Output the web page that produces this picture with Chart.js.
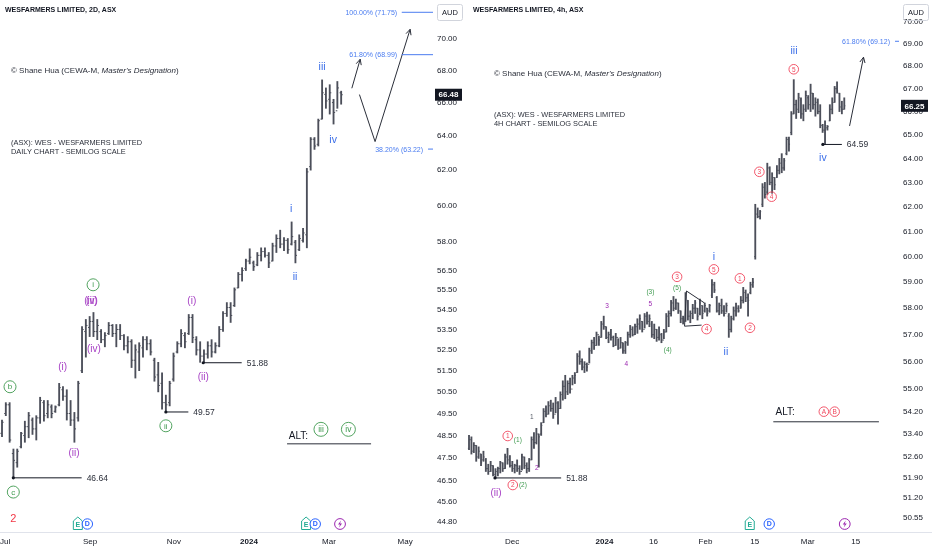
<!DOCTYPE html>
<html><head><meta charset="utf-8">
<script src="https://cdn.jsdelivr.net/npm/chart.js@4.4.1/dist/chart.umd.min.js"></script>
<style>
html,body{margin:0;padding:0;background:#fff;}
body{width:932px;height:550px;overflow:hidden;position:relative;}
canvas{position:absolute;top:0;}
#c1{left:0;} #c2{left:466px;}
</style></head>
<body>
<canvas id="c1" width="466" height="550"></canvas>
<canvas id="c2" width="466" height="550"></canvas>
<script>
// ---------------- LEFT: WESFARMERS 2D ----------------
const leftOpen=[48.6,49.5,49.9,47.7,47.3,48.0,48.5,48.9,49.2,48.8,49.3,50.0,49.5,49.8,49.6,49.9,50.6,50.3,49.5,49.2,49.3,51.5,53.4,53.6,53.9,53.4,53.4,53.0,53.3,53.7,53.3,53.5,53.2,52.7,52.9,52.0,52.4,52.6,53.0,52.8,52.0,51.3,50.9,50.0,50.0,51.1,52.4,52.8,53.2,53.3,54.1,53.0,52.5,52.2,52.3,52.7,52.4,52.7,53.5,54.3,54.6,54.7,55.6,56.3,56.6,57.0,56.9,56.8,57.3,57.5,57.3,57.0,57.8,58.2,57.9,58.1,57.9,58.0,57.6,58.1,58.4,62.2,63.8,63.5,65.0,66.5,66.2,66.0,65.5,66.6];
const leftHigh=[49.2,50.0,50.0,47.9,47.9,48.65,49.15,49.55,49.3,49.4,50.25,50.1,50.1,49.9,49.85,50.9,50.75,50.6,50.1,49.55,51.0,53.65,54.0,54.15,54.35,54.0,53.5,53.35,53.85,53.75,53.75,53.75,53.25,53.15,53.0,52.75,52.85,53.15,53.15,53.0,52.1,51.9,51.4,50.35,51.0,52.35,52.9,53.5,53.35,54.25,54.25,53.15,52.9,52.5,52.9,53.0,52.85,53.65,54.4,54.85,54.85,55.6,56.4,56.65,57.1,57.65,57.0,57.45,57.7,57.7,57.45,57.95,58.4,58.65,58.25,58.2,59.1,58.1,58.4,58.75,62.1,63.9,63.9,65.0,67.4,66.9,67.1,66.2,67.3,66.7];
const leftLow=[48.45,49.4,48.2,46.64,47.1,47.95,48.2,48.4,48.55,48.3,49.05,49.15,49.3,49.3,49.55,49.85,50.1,49.2,48.95,48.2,49.15,51.4,52.15,53.15,53.15,53.0,52.85,52.65,53.25,53.15,52.65,53.0,52.5,52.35,51.65,51.15,51.5,52.15,52.5,52.25,51.0,50.5,49.7,49.57,49.85,51.0,52.35,52.65,52.6,53.25,52.85,52.25,51.9,51.88,52.1,52.15,52.35,52.65,53.4,54.15,53.85,54.65,55.6,55.95,56.5,56.85,56.5,56.75,57.0,57.2,56.65,57.0,57.45,57.7,57.55,57.4,57.85,56.9,57.55,58.0,57.7,62.0,63.2,63.4,65.0,65.65,65.3,64.7,65.65,65.9];
const leftClose=[49.1,49.9,48.3,47.4,47.8,48.6,48.9,49.4,48.8,49.3,50.1,49.4,49.9,49.5,49.8,50.7,50.3,49.5,49.2,48.8,50.9,53.5,53.7,53.9,53.4,53.7,53.0,53.2,53.7,53.3,53.5,53.2,52.7,52.9,52.0,52.5,52.7,53.0,52.8,52.4,51.2,50.8,50.0,49.9,50.9,52.2,52.8,53.3,52.9,54.1,53.1,52.5,52.2,52.3,52.7,52.4,52.7,53.5,54.3,54.6,54.2,55.5,56.3,56.5,57.0,57.2,56.7,57.3,57.5,57.3,56.9,57.8,58.2,57.9,58.1,57.6,58.3,57.3,58.2,58.5,61.9,63.8,63.4,64.9,66.6,66.1,66.6,65.4,66.9,66.48];
const leftYTicks=[70,68,66,64,62,60,58,56.5,55.5,54.5,53.5,52.5,51.5,50.5,49.5,48.5,47.5,46.5,45.6,44.8];
const leftXTickPos=[0.8,23.1,45.1,64.8,85.8,105.8];
const leftXTickLabels=['Jul','Sep','Nov','2024','Mar','May'];
const leftLevels=[[2.97,20.9,46.64],[43.0,48.9,49.57],[52.8,62.9,51.88]];
const leftFibValues=[71.75,68.99,63.22];
const leftFibLabels=['100.00% (71.75)','61.80% (68.99)','38.20% (63.22)'];
const leftFibTextEnd=[103.7,103.7,110.5];
const leftFibLineStart=[104.9,104.9,111.8];
const leftArrows=[[[91.8,66.88],[94.0,68.70]],[[93.8,66.49],[97.9,63.66],[107.1,70.63]]];
const leftPaths=[[[74.8,48.13],[96.85,48.13]]];
const leftLabels=[[84.0,68.21,'iii','b'],[86.9,63.80,'iv','b'],[75.9,59.81,'i','b'],[76.9,56.17,'ii','b'],
 [23.9,55.76,'i','gc'],[23.3,54.92,'(iii)','p'],[23.6,54.92,'(v)','p'],[24.1,52.54,'(iv)','p'],
 [15.9,51.67,'(i)','p'],[18.9,47.73,'(ii)','p'],[2.1,50.74,'b','gc'],[2.97,46.03,'c','gc'],[2.97,44.93,'2','r2'],
 [43.0,48.94,'ii','gc'],[49.8,54.92,'(i)','p'],[52.8,51.19,'(ii)','p'],[77.8,48.49,'ALT:','k'],
 [83.7,48.78,'iii','gc2'],[90.9,48.78,'iv','gc2']];
const leftIcons=[[19.9,'E'],[22.4,'D'],[79.8,'E'],[82.2,'D'],[88.7,'L']];

// ---------------- RIGHT: WESFARMERS 4h ----------------
const rightOpen=[52.9,53.2,52.8,53.0,52.6,52.7,52.5,52.5,52.2,52.1,52.3,52.0,52.1,52.2,52.4,52.2,52.6,52.5,52.3,52.2,52.3,52.2,52.1,52.6,52.3,52.2,52.5,53.2,53.1,53.4,53.4,53.8,54.2,54.1,54.4,54.3,54.1,54.5,54.3,54.8,55.1,54.9,55.2,55.0,55.4,55.6,56.2,56.0,55.8,55.9,55.9,56.4,56.7,56.6,57.0,56.9,57.4,57.3,56.9,57.0,56.9,56.6,56.9,56.5,56.7,56.4,56.7,57.0,57.2,57.0,57.3,57.4,57.5,57.2,57.7,57.5,57.4,57.0,57.2,56.9,57.0,56.8,57.1,57.7,57.8,58.2,58.0,58.2,57.9,57.6,57.5,58.3,57.7,57.8,58.0,58.0,57.8,58.1,57.9,58.0,57.9,58.5,58.9,58.4,57.9,58.1,57.9,57.8,57.7,57.2,57.6,57.9,58.0,58.0,58.3,58.6,58.4,58.6,58.9,60.0,61.7,61.6,62.1,62.8,62.6,63.6,63.0,63.2,63.2,63.5,63.8,63.6,64.2,64.8,65.1,65.9,66.3,66.1,66.5,65.9,66.1,66.6,66.3,66.8,66.3,66.4,66.0,65.4,65.2,65.3,65.6,66.1,66.4,67.0,66.8,66.2,66.1];
const rightHigh=[53.35,53.3,53.1,53.0,52.95,52.7,52.8,52.55,52.35,52.45,52.3,52.2,52.25,52.45,52.4,52.7,52.9,52.65,52.45,52.35,52.5,52.3,52.7,52.6,52.4,52.55,53.3,53.45,53.6,53.4,53.8,54.3,54.4,54.55,54.6,54.5,54.7,54.55,54.9,55.3,55.5,55.3,55.4,55.5,55.6,56.3,56.4,56.1,56.0,55.95,56.5,56.8,56.9,57.1,56.95,57.5,57.7,57.3,57.1,57.2,56.95,57.05,56.85,56.9,56.7,56.75,57.1,57.35,57.3,57.4,57.6,57.75,57.5,57.8,57.85,57.75,57.5,57.4,57.2,57.3,57.05,57.2,57.8,57.9,58.3,58.45,58.35,58.2,57.9,57.7,58.6,58.3,57.9,58.15,58.3,58.0,58.35,58.1,58.2,58.0,58.15,59.1,59.0,58.45,58.2,58.35,58.1,58.2,57.8,57.7,58.05,58.2,58.1,58.45,58.8,58.7,58.55,59.0,59.15,62.1,61.95,61.85,62.95,63.0,63.8,63.65,63.4,63.2,63.7,64.0,64.2,64.0,64.9,64.9,66.0,67.4,66.5,66.8,66.6,66.3,66.9,66.7,67.2,66.8,66.6,66.55,66.3,65.45,65.6,65.4,66.3,66.6,67.1,67.3,66.8,66.45,66.6];
const rightLow=[52.85,52.7,52.75,52.45,52.55,52.3,52.45,52.1,52.0,52.1,51.95,51.88,51.95,52.05,52.1,52.2,52.35,52.25,52.1,52.05,52.1,52.0,52.15,52.2,52.05,52.1,52.5,52.9,53.05,52.25,53.35,53.8,54.0,54.1,54.2,53.95,54.15,53.75,54.3,54.6,54.65,54.8,54.85,55.15,55.2,55.6,55.9,55.7,55.6,55.65,55.95,56.3,56.45,56.6,56.6,56.9,57.2,56.85,56.7,56.8,56.55,56.6,56.45,56.5,56.3,56.3,56.6,56.9,56.95,57.0,57.05,57.2,57.1,57.25,57.4,57.3,56.9,56.85,56.75,56.8,56.7,56.85,57.1,57.3,57.7,57.9,57.95,57.8,57.45,57.4,57.5,57.55,57.45,57.6,57.8,57.55,57.75,57.6,57.85,57.7,57.85,58.4,58.6,57.85,57.75,57.8,57.7,57.85,56.9,57.1,57.55,57.7,57.85,58.0,58.2,58.25,57.7,58.55,58.8,59.9,61.55,61.5,62.0,62.35,62.5,62.9,62.55,62.7,63.2,63.35,63.4,63.5,64.15,64.3,65.0,65.9,65.7,65.95,65.7,65.6,66.0,66.1,66.0,66.1,65.8,65.9,65.3,65.1,64.59,65.2,65.6,65.9,66.4,66.8,66.0,65.9,66.1];
const rightClose=[53.2,52.8,53.0,52.6,52.8,52.4,52.6,52.2,52.1,52.3,52.0,52.1,52.2,52.4,52.2,52.6,52.5,52.3,52.2,52.3,52.2,52.1,52.6,52.3,52.2,52.5,53.2,53.1,53.4,53.3,53.7,54.2,54.1,54.4,54.3,54.1,54.5,54.3,54.8,55.1,54.9,55.2,55.0,55.4,55.5,56.2,56.0,55.8,55.9,55.8,56.4,56.7,56.6,57.0,56.8,57.4,57.3,56.9,57.0,56.9,56.6,56.9,56.5,56.7,56.4,56.7,57.0,57.2,57.0,57.3,57.4,57.6,57.2,57.7,57.5,57.6,57.0,57.2,56.9,57.1,56.8,57.1,57.7,57.8,58.2,58.0,58.2,57.9,57.6,57.5,58.4,57.7,57.8,58.0,58.2,57.7,58.2,57.8,58.1,57.8,58.1,58.9,58.7,57.9,58.1,57.9,57.8,58.1,57.2,57.6,57.9,58.0,57.9,58.3,58.6,58.4,58.3,58.9,59.0,61.7,61.6,61.8,62.8,62.5,63.6,63.0,63.2,62.9,63.5,63.8,63.6,63.9,64.8,64.6,65.9,66.3,66.1,66.6,65.9,66.1,66.7,66.3,66.8,66.3,66.4,66.0,65.4,65.2,65.4,65.35,66.1,66.4,67.0,66.9,66.2,66.1,66.25];
const rightYTicks=[70,69,68,67,66,65,64,63,62,61,60,59,58,57,56,55,54.2,53.4,52.6,51.9,51.2,50.55];
const rightXTickPos=[17.9,56.3,76.7,98.3,118.75,140.8,160.8];
const rightXTickLabels=['Dec','2024','16','Feb','15','Mar','15'];
const rightLevels=[[10.8,38.3,51.88],[147.1,155.0,64.59]];
const rightFibValues=[69.12];
const rightFibLabels=['61.80% (69.12)'];
const rightFibTextEnd=[175.0];
const rightFibLineStart=[177.1];
const rightArrows=[[[158.2,65.38],[164.0,68.40]]];
const rightPaths=[[[126.5,53.83],[170.4,53.83]],[[90.4,58.66],[97.9,58.20]],[[90.4,58.66],[89.6,57.32],[96.7,57.36]]];
const rightLabels=[[135.1,68.69,'iii','b'],[135.0,67.86,'5','rc'],[147.1,64.02,'iv','b'],[120.7,63.44,'3','rc'],
 [125.8,62.41,'4','rc'],[101.8,59.99,'i','b'],[101.8,59.50,'5','rc'],[86.5,59.21,'3','rc'],[112.6,59.15,'1','rc'],
 [116.8,57.26,'2','rc'],[98.75,57.21,'4','rc'],[106.8,56.37,'ii','b'],[75.4,58.63,'(3)','gs'],[75.4,58.19,'5','ps'],
 [86.5,58.79,'(5)','gs'],[57.4,58.10,'3','ps'],[65.4,55.92,'4','ps'],[82.6,56.45,'(4)','gs'],[26.1,54.0,'1','ks'],
 [16.1,53.33,'1','rc'],[20.3,53.20,'(1)','gs'],[28.2,52.23,'2','ps'],[18.2,51.64,'2','rc'],[22.4,51.64,'(2)','gs'],
 [11.25,51.37,'(ii)','p'],[131.4,54.19,'ALT:','k'],[147.5,54.19,'A','rc'],[152.0,54.19,'B','rc']];
const rightIcons=[[116.7,'E'],[124.8,'D'],[156.2,'L']];

// ---------------- rendering ----------------
const F='"Liberation Sans", Arial, sans-serif';
const BAR='#4c4f5a';
const INK='#131722';
const COLS={b:'#3b6ee8',p:'#a63fc4',g:'#3f9a4f',r:'#f0465c',ps:'#9c27b0',ks:'#555a66'};

function circ(ctx,x,y,r,t,col,fs){
  ctx.beginPath();ctx.arc(x,y,r,0,Math.PI*2);ctx.strokeStyle=col;ctx.lineWidth=0.9;ctx.stroke();
  ctx.fillStyle=col;ctx.font=fs+'px '+F;ctx.textAlign='center';ctx.textBaseline='middle';ctx.fillText(t,x,y+0.5);
}
function drawIcon(ctx,x,y,k){
  ctx.save();ctx.lineWidth=1;
  if(k==='E'){
    ctx.strokeStyle='#22ab94';ctx.fillStyle='#fff';
    ctx.beginPath();ctx.moveTo(x-4.5,y-3);ctx.lineTo(x,y-7);ctx.lineTo(x+4.5,y-3);ctx.lineTo(x+4.5,y+5.5);ctx.lineTo(x-4.5,y+5.5);ctx.closePath();ctx.fill();ctx.stroke();
    ctx.fillStyle='#22ab94';ctx.font='bold 7px '+F;ctx.textAlign='center';ctx.textBaseline='middle';ctx.fillText('E',x,y+1);
  } else if(k==='D'){
    ctx.strokeStyle='#2962ff';ctx.fillStyle='#fff';
    ctx.beginPath();ctx.arc(x,y,5.2,0,Math.PI*2);ctx.fill();ctx.stroke();
    ctx.fillStyle='#2962ff';ctx.font='bold 7px '+F;ctx.textAlign='center';ctx.textBaseline='middle';ctx.fillText('D',x,y+0.5);
  } else {
    ctx.strokeStyle='#9c27b0';ctx.fillStyle='#fff';
    ctx.beginPath();ctx.arc(x,y,5.4,0,Math.PI*2);ctx.fill();ctx.stroke();
    ctx.fillStyle='#9c27b0';ctx.beginPath();
    ctx.moveTo(x+1,y-3.5);ctx.lineTo(x-2,y+0.5);ctx.lineTo(x,y+0.5);ctx.lineTo(x-1,y+3.5);ctx.lineTo(x+2,y-0.5);ctx.lineTo(x,y-0.5);ctx.closePath();ctx.fill();
  }
  ctx.restore();
}

function overlay(P){
  return {
    id:'overlay',
    afterDatasetsDraw(chart){
      const ctx=chart.ctx,xs=chart.scales.x,ys=chart.scales.y,a=chart.chartArea;
      const X=v=>xs.getPixelForValue(v),Y=v=>ys.getPixelForValue(v);
      ctx.save();
      ctx.beginPath();ctx.rect(a.left,a.top,a.right-a.left,a.bottom-a.top);ctx.clip();
      // open / close ticks
      ctx.strokeStyle=BAR;ctx.lineWidth=1;
      for(let i=0;i<P.open.length;i++){
        const x=X(i),yo=Y(P.open[i]),yc=Y(P.close[i]);
        ctx.beginPath();ctx.moveTo(x-P.tick,yo);ctx.lineTo(x,yo);ctx.moveTo(x,yc);ctx.lineTo(x+P.tick,yc);ctx.stroke();
      }
      // level dots and texts
      P.levels.forEach(l=>{
        ctx.fillStyle=INK;ctx.beginPath();ctx.arc(X(l[0]),Y(l[2]),1.6,0,Math.PI*2);ctx.fill();
        ctx.font='8.5px '+F;ctx.textAlign='left';ctx.textBaseline='middle';ctx.fillStyle='#2a2e39';
        ctx.fillText(l[2].toFixed(2),X(l[1])+5,Y(l[2])+0.5);
      });
      // fib texts
      P.fibV.forEach((v,k)=>{
        ctx.font='7px '+F;ctx.textAlign='right';ctx.textBaseline='middle';ctx.fillStyle='#4a7cf0';
        ctx.fillText(P.fibL[k],X(P.fibT[k]),Y(v)+0.5);
      });
      // arrow heads
      ctx.strokeStyle='#2a2e39';ctx.lineWidth=1;
      P.arrows.forEach(ar=>{
        const p1=ar[ar.length-2],p2=ar[ar.length-1];
        const x1=X(p1[0]),y1=Y(p1[1]),x2=X(p2[0]),y2=Y(p2[1]);
        const ang=Math.atan2(y2-y1,x2-x1),L=6;
        ctx.beginPath();
        ctx.moveTo(x2-L*Math.cos(ang-0.45),y2-L*Math.sin(ang-0.45));ctx.lineTo(x2,y2);
        ctx.lineTo(x2-L*Math.cos(ang+0.45),y2-L*Math.sin(ang+0.45));ctx.stroke();
      });
      // wave labels
      P.labels.forEach(L=>{
        const x=X(L[0]),y=Y(L[1]),t=L[2],s=L[3];
        ctx.textAlign='center';ctx.textBaseline='middle';
        if(s==='gc') circ(ctx,x,y,P.r,t,COLS.g,P.cf);
        else if(s==='gc2') circ(ctx,x,y,7,t,COLS.g,8.5);
        else if(s==='rc') circ(ctx,x,y,P.r,t,COLS.r,P.cf);
        else {
          let col=INK,fs=10;
          if(s==='b'){col=COLS.b;fs=10.5;}
          else if(s==='p'){col=COLS.p;fs=10;}
          else if(s==='r2'){col='#f23645';fs=11;}
          else if(s==='k'){col=INK;fs=10;}
          else if(s==='gs'){col=COLS.g;fs=6.5;}
          else if(s==='ps'){col=COLS.ps;fs=6.5;}
          else if(s==='ks'){col=COLS.ks;fs=6.5;}
          ctx.fillStyle=col;ctx.font=fs+'px '+F;ctx.fillText(t,x,y+0.5);
        }
      });
      ctx.restore();
      // event icons
      P.icons.forEach(ic=>drawIcon(ctx,X(ic[0]),a.bottom-8,ic[1]));
    },
    afterDraw(chart){
      const ctx=chart.ctx,ys=chart.scales.y,a=chart.chartArea;
      ctx.save();
      // bottom border across panel
      ctx.strokeStyle='#e0e3eb';ctx.lineWidth=1;
      ctx.beginPath();ctx.moveTo(0,a.bottom+0.5);ctx.lineTo(chart.width,a.bottom+0.5);ctx.stroke();
      // last price label
      const yp=ys.getPixelForValue(P.last);
      ctx.fillStyle='#131722';ctx.fillRect(a.right+2,yp-6,27,12);
      ctx.fillStyle='#fff';ctx.font='bold 8px '+F;ctx.textAlign='center';ctx.textBaseline='middle';
      ctx.fillText(P.last.toFixed(2),a.right+15.5,yp+0.5);
      // AUD box
      ctx.strokeStyle='#d1d4dc';ctx.lineWidth=1;
      ctx.beginPath();ctx.roundRect(a.right+4.5,4.5,25,16,2);ctx.stroke();
      ctx.fillStyle=INK;ctx.font='7.5px '+F;ctx.fillText('AUD',a.right+17,12.8);
      // titles and notes
      ctx.textAlign='left';ctx.textBaseline='middle';
      ctx.font='bold 7px '+F;ctx.fillStyle=INK;ctx.fillText(P.title,P.tx,10.5);
      ctx.font='8px '+F;ctx.fillStyle='#2a2e39';
      const s1='\u00a9 Shane Hua (CEWA-M, ';
      ctx.fillText(s1,P.nx,P.ny1);
      const w1=ctx.measureText(s1).width;
      ctx.font='italic 8px '+F;ctx.fillText("Master's Designation",P.nx+w1,P.ny1);
      const w2=ctx.measureText("Master's Designation").width;
      ctx.font='8px '+F;ctx.fillText(')',P.nx+w1+w2,P.ny1);
      ctx.font='7.4px '+F;
      ctx.fillText('(ASX): WES - WESFARMERS LIMITED',P.nx,P.ny2);
      ctx.fillText(P.sub,P.nx,P.ny2+9);
      ctx.restore();
    }
  };
}

function build(id,P){
  const bars=P.high.map((h,i)=>({x:i,y:[P.low[i],h]}));
  const ds=[{type:'bar',data:bars,backgroundColor:BAR,barThickness:1.2,order:2}];
  P.levels.forEach(l=>ds.push({type:'line',data:[{x:l[0],y:l[2]},{x:l[1],y:l[2]}],borderColor:INK,borderWidth:1,pointRadius:0,order:1}));
  P.fibV.forEach((v,k)=>ds.push({type:'line',data:[{x:P.fibS[k],y:v},{x:P.xmax,y:v}],borderColor:'#4a7cf0',borderWidth:1,pointRadius:0,order:1}));
  P.arrows.forEach(ar=>ds.push({type:'line',data:ar.map(p=>({x:p[0],y:p[1]})),borderColor:'#2a2e39',borderWidth:1,pointRadius:0,order:1}));
  P.paths.forEach(ar=>ds.push({type:'line',data:ar.map(p=>({x:p[0],y:p[1]})),borderColor:'#2a2e39',borderWidth:1,pointRadius:0,order:1}));
  return new Chart(document.getElementById(id),{
    type:'bar',
    data:{datasets:ds},
    plugins:[overlay(P)],
    options:{
      responsive:false,animation:false,devicePixelRatio:1,
      layout:{padding:0},
      plugins:{legend:{display:false},tooltip:{enabled:false}},
      scales:{
        x:{type:'linear',min:P.xmin,max:P.xmax,offset:false,
           grid:{display:false,drawTicks:false},border:{display:false},
           afterBuildTicks:s=>{s.ticks=P.xt.map(v=>({value:v}));},
           afterFit:s=>{s.height=18;s.paddingLeft=0;s.paddingRight=0;},
           ticks:{autoSkip:false,maxRotation:0,padding:5,color:INK,
             callback:(v,i)=>P.xl[i],
             font:c=>({family:F,size:8,weight:(c.tick&&c.tick.label==='2024')?'bold':'normal'})}},
        y:{type:'logarithmic',position:'right',min:P.ymin,max:P.ymax,
           grid:{display:false,drawTicks:false},border:{display:false},
           afterBuildTicks:s=>{s.ticks=P.yt.map(v=>({value:v}));},
           afterFit:s=>{s.width=33;s.paddingTop=0;s.paddingBottom=0;},
           ticks:{autoSkip:false,padding:4,color:INK,font:{family:F,size:8},callback:v=>Number(v).toFixed(2)}}
      }
    }
  });
}

build('c1',{open:leftOpen,high:leftHigh,low:leftLow,close:leftClose,tick:1.6,
  yt:leftYTicks,ymin:44.36,ymax:72.57,xmin:-0.525,xmax:113.1,xt:leftXTickPos,xl:leftXTickLabels,
  levels:leftLevels,fibV:leftFibValues,fibL:leftFibLabels,fibT:leftFibTextEnd,fibS:leftFibLineStart,
  arrows:leftArrows,paths:leftPaths,labels:leftLabels,icons:leftIcons,r:6,cf:8,last:leftClose[leftClose.length-1],
  title:'WESFARMERS LIMITED, 2D, ASX',tx:5,nx:11,ny1:71,ny2:142.5,sub:'DAILY CHART - SEMILOG SCALE'});
build('c2',{open:rightOpen,high:rightHigh,low:rightLow,close:rightClose,tick:1.1,
  yt:rightYTicks,ymin:50.07,ymax:71.02,xmin:-1.25,xmax:178.75,xt:rightXTickPos,xl:rightXTickLabels,
  levels:rightLevels,fibV:rightFibValues,fibL:rightFibLabels,fibT:rightFibTextEnd,fibS:rightFibLineStart,
  arrows:rightArrows,paths:rightPaths,labels:rightLabels,icons:rightIcons,r:4.8,cf:6.5,last:rightClose[rightClose.length-1],
  title:'WESFARMERS LIMITED, 4h, ASX',tx:7,nx:28,ny1:73.5,ny2:114.5,sub:'4H CHART - SEMILOG SCALE'});
</script>
</body></html>
